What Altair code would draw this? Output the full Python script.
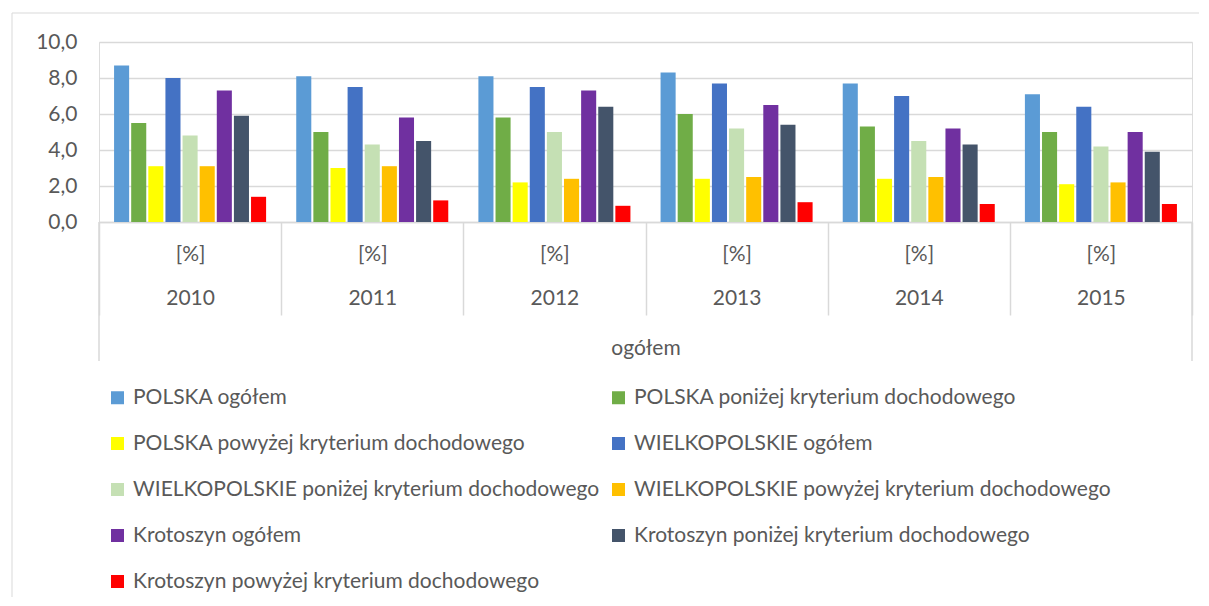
import altair as alt
import pandas as pd

years = ["2010", "2011", "2012", "2013", "2014", "2015"]
series = [
    "POLSKA ogółem",
    "POLSKA poniżej kryterium dochodowego",
    "POLSKA powyżej kryterium dochodowego",
    "WIELKOPOLSKIE ogółem",
    "WIELKOPOLSKIE poniżej kryterium dochodowego",
    "WIELKOPOLSKIE powyżej kryterium dochodowego",
    "Krotoszyn ogółem",
    "Krotoszyn poniżej kryterium dochodowego",
    "Krotoszyn powyżej kryterium dochodowego",
]
colors = ["#5B9BD5", "#70AD47", "#FFFF00", "#4472C4", "#C5E0B4",
          "#FFC000", "#7030A0", "#44546A", "#FF0000"]

polska_ogolem = [8.7, 8.1, 8.1, 8.3, 7.7, 7.1]
polska_ponizej = [5.5, 5.0, 5.8, 6.0, 5.3, 5.0]
polska_powyzej = [3.1, 3.0, 2.2, 2.4, 2.4, 2.1]
wlkp_ogolem = [8.0, 7.5, 7.5, 7.7, 7.0, 6.4]
wlkp_ponizej = [4.8, 4.3, 5.0, 5.2, 4.5, 4.2]
wlkp_powyzej = [3.1, 3.1, 2.4, 2.5, 2.5, 2.2]
krot_ogolem = [7.3, 5.8, 7.3, 6.5, 5.2, 5.0]
krot_ponizej = [5.9, 4.5, 6.4, 5.4, 4.3, 3.9]
krot_powyzej = [1.4, 1.2, 0.9, 1.1, 1.0, 1.0]

all_values = [polska_ogolem, polska_ponizej, polska_powyzej,
              wlkp_ogolem, wlkp_ponizej, wlkp_powyzej,
              krot_ogolem, krot_ponizej, krot_powyzej]

rows = []
for s, vals in zip(series, all_values):
    for y, v in zip(years, vals):
        rows.append({"rok": y, "seria": s, "wartosc": v})
df = pd.DataFrame(rows)

# legend fills column by column: reorder so it reads row by row (2 columns)
legend_order = series[0::2] + series[1::2]
legend_colors = [colors[series.index(s)] for s in legend_order]

FONT = "Lato"
FS = 21
TXT = "#595959"
GRID = "#D9D9D9"
W, H = 1093, 180

bars = alt.Chart(df).mark_bar().encode(
    x=alt.X("rok:N", sort=years,
            scale=alt.Scale(paddingInner=0, paddingOuter=0),
            axis=alt.Axis(
                title="ogółem", labelAngle=0,
                labelExpr="datum.label ? ['[%]', datum.label] : ''",
                labelLineHeight=44, labelPadding=-72,
                labelFont=FONT, labelFontSize=FS, labelColor=TXT,
                titleFont=FONT, titleFontSize=FS, titleColor=TXT,
                titleFontWeight="normal", titlePadding=22,
                tickBand="extent", tickSize=93, tickColor=GRID, tickWidth=1.5,
                domainColor=GRID, domainWidth=1.5, grid=False)),
    xOffset=alt.XOffset("seria:N", sort=series,
                        scale=alt.Scale(paddingInner=0.12, paddingOuter=0.88)),
    y=alt.Y("wartosc:Q", scale=alt.Scale(domain=[0, 10], nice=False),
            axis=alt.Axis(title=None, values=[0, 2, 4, 6, 8, 10],
                          labelExpr="replace(format(datum.value, '.1f'), '.', ',')",
                          labelFont=FONT, labelFontSize=FS, labelColor=TXT,
                          labelPadding=22, domain=False, ticks=False,
                          gridColor=GRID, gridWidth=1.3)),
    color=alt.Color("seria:N",
                    scale=alt.Scale(domain=legend_order, range=legend_colors),
                    legend=alt.Legend(
                        title=None, orient="none", legendX=8, legendY=345,
                        columns=2, columnPadding=8, rowPadding=24,
                        symbolType="square", symbolSize=169, symbolStrokeWidth=0,
                        labelFont=FONT, labelFontSize=FS, labelColor=TXT,
                        labelOffset=5, labelLimit=0)),
)

one = pd.DataFrame({"k": [0]})
outer_left = alt.Chart(one).mark_rule(color=GRID, strokeWidth=1.5).encode(
    x=alt.value(0), y=alt.value(H), y2=alt.value(H + 139))
outer_right = alt.Chart(one).mark_rule(color=GRID, strokeWidth=1.5).encode(
    x=alt.value(W), y=alt.value(H), y2=alt.value(H + 139))
border_left = alt.Chart(one).mark_rule(color=GRID, strokeWidth=1).encode(
    x=alt.value(-87), y=alt.value(-29), y2=alt.value(555))
border_top = alt.Chart(one).mark_rule(color=GRID, strokeWidth=1).encode(
    x=alt.value(-87), x2=alt.value(1100), y=alt.value(-29))

chart = alt.layer(bars, outer_left, outer_right, border_left, border_top).properties(
    width=W, height=H,
    padding={"left": 3, "top": 4, "right": 0, "bottom": 0},
).configure_view(stroke=None).configure(background="white")

chart.save("out.html", embed_options={"renderer": "svg", "actions": False})
